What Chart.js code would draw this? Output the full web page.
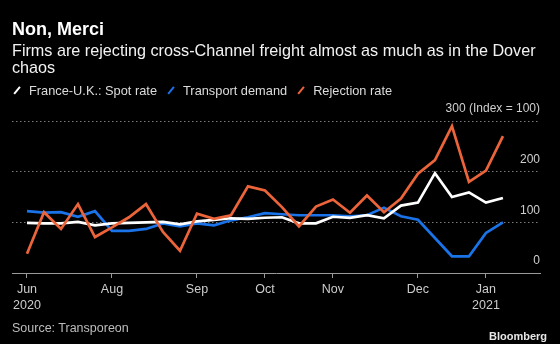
<!DOCTYPE html>
<html><head><meta charset="utf-8">
<script src="https://cdn.jsdelivr.net/npm/chart.js@4/dist/chart.umd.min.js"></script>
<style>
html,body{margin:0;padding:0;background:#000;}
#wrap{position:relative;width:560px;height:344px;overflow:hidden;background:#000;font-family:"Liberation Sans",Arial,sans-serif;}
#c{position:absolute;left:0;top:0;}
.t{position:absolute;white-space:nowrap;}
#legend{position:absolute;left:13px;top:82.7px;display:flex;white-space:nowrap;font-size:12.8px;line-height:15px;color:#dcdcdc;}
.item{display:flex;align-items:center;margin-right:10px;}
.icon{position:relative;display:inline-block;width:8px;height:15px;margin-right:8px;}
.icon i{position:absolute;left:3px;top:3px;width:2.4px;height:9px;transform:rotate(40deg);}
</style></head><body>
<div id="wrap">
<canvas id="c" width="560" height="344"></canvas>
<div class="t" style="left:12px;top:20px;font-size:18px;line-height:18px;font-weight:bold;color:#fff">Non, Merci</div>
<div class="t" style="left:12px;top:42.3px;font-size:16.2px;line-height:17px;color:#f2f2f2">Firms are rejecting cross-Channel freight almost as much as in the Dover<br>chaos</div>
<div id="legend"></div>
<div class="t" style="left:12px;top:320.5px;font-size:12.5px;line-height:15px;color:#bdbdbd">Source: Transporeon</div>
<div class="t" style="right:13px;top:329.7px;font-size:11px;line-height:13px;font-weight:bold;color:#e6e6e6">Bloomberg</div>
</div>
<script>
// Weekly observations (week starting)
const weeks = ["2020-06-29","2020-07-06","2020-07-13","2020-07-20","2020-07-27","2020-08-03","2020-08-10","2020-08-17","2020-08-24","2020-08-31",
  "2020-09-07","2020-09-14","2020-09-21","2020-09-28","2020-10-05","2020-10-12","2020-10-19","2020-10-26","2020-11-02","2020-11-09",
  "2020-11-16","2020-11-23","2020-11-30","2020-12-07","2020-12-14","2020-12-21","2020-12-28","2021-01-04","2021-01-11"];
const spotRate = [99,98,98,101,94,98,99,100,101,96,102,105,108,107,109,110,98,98,111,109,114,108,133,139,197,150,159,139,148];
const transportDemand = [122,119,120,111,122,83,83,87,98,92,98,94,104,110,118,116,114,114,114,112,114,129,112,105,69,33,33,79,100];
const rejectionRate = [38,120,87,136,71,90,110,136,81,44,117,107,114,171,163,130,92,131,145,119,153,120,147,196,223,290,180,202,270];
const seriesNames = ["France-U.K.: Spot rate","Transport demand","Rejection rate"];
// x tick positions (week index) and labels
const xTickIdx = [0,5,10,14,18,23,27];
const xTickLabels = [["Jun","2020"],"Aug","Sep","Oct","Nov","Dec",["Jan","2021"]];
const yTickValues = [0,100,200,300];
const yTickLabels = ["0","100","200","300 (Index = 100)"];

const colors = ["#ffffff","#1a73e8","#ec643a"];
function pts(arr){ return arr.map((v,i)=>({x:i,y:v})); }

Chart.defaults.font.family = '"Liberation Sans", Arial, sans-serif';
const chart = new Chart(document.getElementById('c'), {
  type:'line',
  data:{
    labels: weeks,
    datasets:[
      {label:seriesNames[0], data:pts(spotRate), borderColor:colors[0], order:1},
      {label:seriesNames[1], data:pts(transportDemand), borderColor:colors[1], order:2},
      {label:seriesNames[2], data:pts(rejectionRate), borderColor:colors[2], order:0}
    ]
  },
  options:{
    responsive:false, animation:false, devicePixelRatio:1,
    layout:{padding:{top:121,left:12,right:20,bottom:31}},
    elements:{line:{borderWidth:2.7,tension:0,fill:false},point:{radius:0}},
    plugins:{legend:{display:false},tooltip:{enabled:false},title:{display:false}},
    scales:{
      x:{type:'linear',min:-0.882,max:30.18,
        afterBuildTicks:(s)=>{s.ticks = xTickIdx.map(v=>({value:v}));},
        afterFit:(s)=>{s.height=40;},
        grid:{display:true,drawOnChartArea:false,drawTicks:true,tickLength:5,color:'#9a9a9a',lineWidth:1},
        border:{display:true,color:'#9a9a9a',width:1},
        ticks:{color:'#cccccc',padding:4,maxRotation:0,autoSkip:false,font:{size:12.5,lineHeight:1.23},
          callback:(v)=>{const k=xTickIdx.indexOf(v);return k>=0?xTickLabels[k]:'';}}
      },
      y:{position:'right',min:0,max:300,
        afterBuildTicks:(s)=>{s.ticks = yTickValues.map(v=>({value:v}));},
        grid:{drawTicks:false,lineWidth:1,color:(ctx)=> (ctx.tick && ctx.tick.value===0) ? 'rgba(0,0,0,0)' : '#7a7a7a'},
        border:{display:false,dash:[1.5,2.5]},
        ticks:{mirror:true,padding:0,labelOffset:-12,color:'#cfcfcf',font:{size:12},
          callback:(v)=>{const k=yTickValues.indexOf(v);return k>=0?yTickLabels[k]:'';}}
      }
    }
  }
});
// HTML legend built from the chart's datasets
const lg = document.getElementById('legend');
chart.data.datasets.forEach(ds=>{
  const it = document.createElement('span'); it.className='item';
  const ic = document.createElement('span'); ic.className='icon';
  const bar = document.createElement('i'); bar.style.background = ds.borderColor; ic.appendChild(bar);
  const tx = document.createElement('span'); tx.textContent = ds.label;
  it.appendChild(ic); it.appendChild(tx); lg.appendChild(it);
});
</script>
</body></html>
